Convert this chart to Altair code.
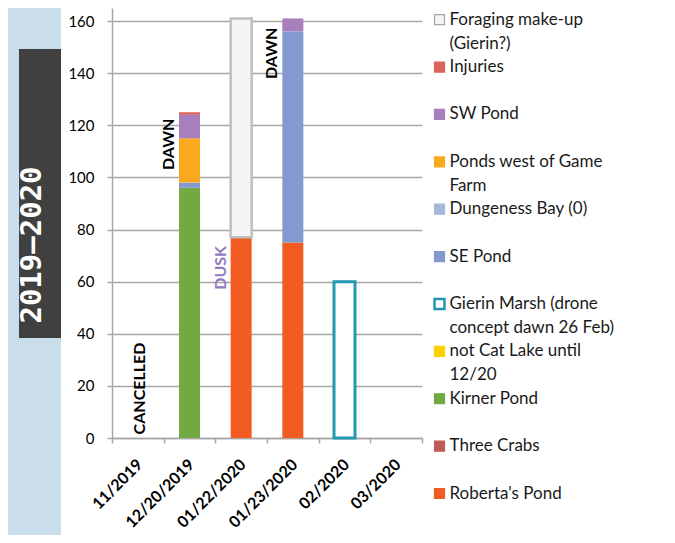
import altair as alt
import pandas as pd

# ---------------- data ----------------
dates = ["11/2019", "12/20/2019", "01/22/2020", "01/23/2020", "02/2020", "03/2020"]

# stack order, bottom to top
series = [
    "Roberta's Pond",
    "Three Crabs",
    "Kirner Pond",
    "not Cat Lake until 12/20",
    "Gierin Marsh (drone concept dawn 26 Feb)",
    "SE Pond",
    "Dungeness Bay (0)",
    "Ponds west of Game Farm",
    "SW Pond",
    "Injuries",
    "Foraging make-up (Gierin?)",
]

robertas_pond = [0, 0, 77, 75, 0, 0]
three_crabs = [0, 0, 0, 0, 0, 0]
kirner_pond = [0, 96, 0, 0, 0, 0]
not_cat_lake = [0, 0, 0, 0, 0, 0]
gierin_marsh = [0, 0, 0, 0, 60, 0]
se_pond = [0, 2, 0, 81, 0, 0]
dungeness_bay = [0, 0, 0, 0, 0, 0]
ponds_west = [0, 17, 0, 0, 0, 0]
sw_pond = [0, 9, 0, 5, 0, 0]
injuries = [0, 1, 0, 0, 0, 0]
foraging = [0, 0, 84, 0, 0, 0]

series_values = [robertas_pond, three_crabs, kirner_pond, not_cat_lake, gierin_marsh,
                 se_pond, dungeness_bay, ponds_west, sw_pond, injuries, foraging]

fill_colors = ["#F25C22", "#BE5B56", "#72A940", "#FFD000", "#FFFFFF",
               "#8499CE", "#A5B8DA", "#F9A91D", "#A67FBC", "#D9645E", "#F4F5F4"]
stroke_colors = ["#F25C22", "#BE5B56", "#72A940", "#FFD000", "#2398AE",
                 "#8499CE", "#A5B8DA", "#F9A91D", "#A67FBC", "#D9645E", "#A6A6A6"]

y_ticks = [0, 20, 40, 60, 80, 100, 120, 140, 160]

note_dates = ["11/2019", "12/20/2019", "01/22/2020", "01/23/2020"]
note_y = [19, 112.7, 65.3, 147.6]
note_text = ["CANCELLED", "DAWN", "DUSK", "DAWN"]

legend_names = list(reversed(series))
legend_line1 = ["Foraging make-up", "Injuries", "SW Pond", "Ponds west of Game",
                "Dungeness Bay (0)", "SE Pond", "Gierin Marsh (drone",
                "not Cat Lake until", "Kirner Pond", "Three Crabs", "Roberta's Pond"]
legend_line2 = ["(Gierin?)", "", "", "Farm", "", "", "concept dawn 26 Feb)",
                "12/20", "", "", ""]

season_title = "2019\u20132020"

# ---------------- tables ----------------
rows = []
for i, (name, vals) in enumerate(zip(series, series_values)):
    for d, v in zip(dates, vals):
        rows.append({"date": d, "series": name, "idx": i, "value": v})
df = pd.DataFrame(rows)

notes = pd.DataFrame({"date": note_dates, "y": note_y, "note": note_text})
legend_df = pd.DataFrame({"name": legend_names, "line1": legend_line1, "line2": legend_line2})

FONT = "Lato"
GRID = "#A6A6A6"

x_enc = alt.X(
    "date:N",
    sort=dates,
    scale=alt.Scale(domain=dates, paddingInner=0, paddingOuter=0),
    axis=alt.Axis(
        title=None, labelAngle=315, tickBand="extent", tickSize=5,
        tickColor=GRID, tickWidth=1.5, domainColor=GRID, domainWidth=1.5,
        labelFont=FONT, labelFontSize=16, labelFontWeight="bold",
        labelColor="#000000", labelPadding=13, labelOffset=-4, grid=False,
    ),
)
y_scale = alt.Scale(domain=[0, 165], nice=False, zero=True)
y_axis = alt.Axis(
    title=None, values=y_ticks, grid=True, gridColor=GRID, gridWidth=1.3,
    tickSize=5, tickColor=GRID, tickWidth=1.5, domainColor=GRID, domainWidth=1.5,
    labelFont=FONT, labelFontSize=15, labelColor="#000000", labelPadding=13,
)

base = alt.Chart(df).transform_stack(
    stack="value", as_=["v0", "v1"], groupby=["date"],
    sort=[alt.SortField("idx", order="ascending")],
)

bars = base.mark_bar(size=21).encode(
    x=x_enc,
    y=alt.Y("v0:Q", scale=y_scale, axis=y_axis),
    y2="v1:Q",
    fill=alt.Fill("series:N", scale=alt.Scale(domain=series, range=fill_colors), legend=None),
)

foraging_outline = base.transform_filter(
    "datum.series == 'Foraging make-up (Gierin?)' && datum.value > 0"
).mark_bar(size=21, fillOpacity=0, stroke="#BFBFBF", strokeWidth=2.5).encode(
    x=alt.X("date:N", sort=dates), y="v0:Q", y2="v1:Q"
)
gierin_outline = base.transform_filter(
    "datum.series == 'Gierin Marsh (drone concept dawn 26 Feb)' && datum.value > 0"
).mark_bar(size=21, fillOpacity=0, stroke="#2398AE", strokeWidth=3).encode(
    x=alt.X("date:N", sort=dates), y="v0:Q", y2="v1:Q"
)

note_base = alt.Chart(notes)
txt_kw = dict(angle=270, align="center", baseline="middle", font=FONT,
              fontSize=16, fontWeight="bold")
cancel_txt = note_base.transform_filter("datum.note == 'CANCELLED'").mark_text(
    dy=2, color="#000000", **txt_kw
).encode(x=alt.X("date:N", sort=dates), y="y:Q", text="note:N")
dawn_txt = note_base.transform_filter("datum.note == 'DAWN'").mark_text(
    dy=-21, color="#000000", **txt_kw
).encode(x=alt.X("date:N", sort=dates), y="y:Q", text="note:N")
dusk_txt = note_base.transform_filter("datum.note == 'DUSK'").mark_text(
    dy=-20, color="#8F7BC0", **txt_kw
).encode(x=alt.X("date:N", sort=dates), y="y:Q", text="note:N")

main = alt.layer(bars, foraging_outline, gierin_outline, cancel_txt, dawn_txt, dusk_txt).properties(
    width=310, height=430
)

# ---------------- legend panel ----------------
leg_y = alt.Y("name:N", sort=legend_names,
              scale=alt.Scale(type="point", domain=legend_names, range=[11.7, 485.5], padding=0),
              axis=None)
leg_base = alt.Chart(legend_df)
leg_sym = leg_base.mark_square(size=100, opacity=1).encode(
    x=alt.value(9.5),
    y=leg_y,
    fill=alt.Fill("name:N", scale=alt.Scale(domain=series, range=fill_colors), legend=None),
    stroke=alt.Stroke("name:N", scale=alt.Scale(domain=series, range=stroke_colors), legend=None),
    strokeWidth=alt.condition(
        "datum.name == 'Gierin Marsh (drone concept dawn 26 Feb)'", alt.value(2.5), alt.value(1.2)
    ),
)
leg_t1 = leg_base.mark_text(align="left", baseline="middle", font=FONT, fontSize=17,
                            color="#1A1A1A").encode(x=alt.value(19.5), y=leg_y, text="line1:N")
leg_t2 = leg_base.mark_text(align="left", baseline="middle", font=FONT, fontSize=17,
                            color="#1A1A1A", dy=24).encode(x=alt.value(19.5), y=leg_y, text="line2:N")
legend = alt.layer(leg_sym, leg_t1, leg_t2).properties(width=200, height=494)

# ---------------- left season panel ----------------
panel_df = pd.DataFrame({"label": [season_title]})
panel_box = alt.Chart(panel_df).mark_rect(color="#404040").encode(
    x=alt.value(11), x2=alt.value(53), y=alt.value(41), y2=alt.value(330)
)
panel_txt = alt.Chart(panel_df).mark_text(
    angle=270, align="center", baseline="middle", font="DejaVu Sans Mono",
    fontSize=29, fontWeight="bold", color="#FFFFFF"
).encode(x=alt.value(24), y=alt.value(237), text="label:N")
panel = alt.layer(panel_box, panel_txt).properties(
    width=53, height=527, view=alt.ViewBackground(fill="#C9DEEA", strokeWidth=0)
)

chart = alt.hconcat(panel, main, legend, spacing=6).properties(
    padding=0, background="#FFFFFF"
).configure_view(strokeWidth=0)

chart.save("out.html", embed_options={"renderer": "svg", "actions": False})
